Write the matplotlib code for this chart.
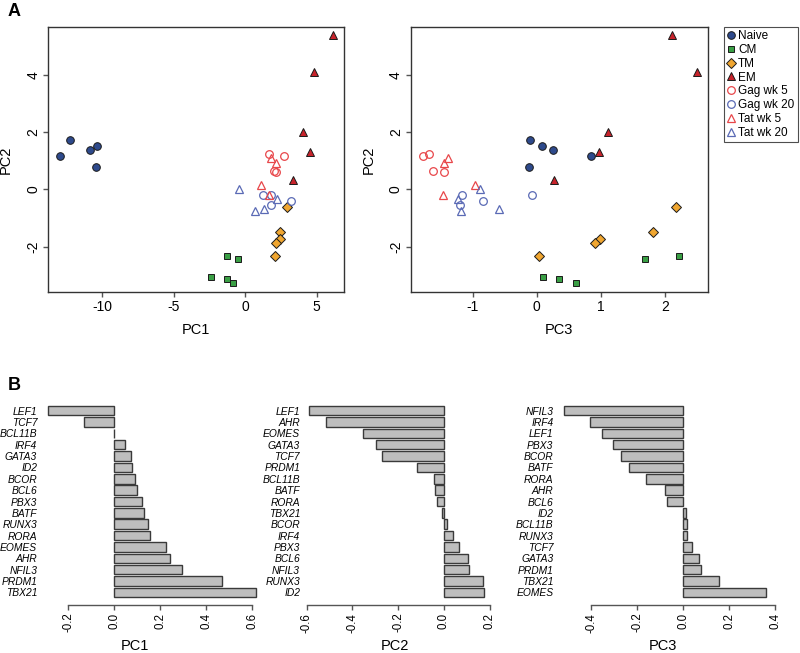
import matplotlib
matplotlib.use("Agg")
import matplotlib.pyplot as plt
from matplotlib.lines import Line2D

plt.rcParams['font.family'] = ['Liberation Sans', 'DejaVu Sans']
plt.rcParams['axes.unicode_minus'] = False

# ---- PCA scores per group (PC1, PC2, PC3) ----
groups = ["Naive", "CM", "TM", "EM", "Gag wk 5", "Gag wk 20", "Tat wk 5", "Tat wk 20"]

naive_pc1 = [-12.23, -10.37, -10.88, -10.42, -12.95]
naive_pc2 = [1.73, 1.53, 1.37, 0.77, 1.18]
naive_pc3 = [-0.11, 0.08, 0.25, -0.13, 0.84]

cm_pc1 = [-1.28, -0.51, -2.40, -1.26, -0.88]
cm_pc2 = [-2.34, -2.42, -3.06, -3.13, -3.26]
cm_pc3 = [2.22, 1.69, 0.10, 0.34, 0.61]

tm_pc1 = [2.93, 2.44, 2.44, 2.12, 2.07]
tm_pc2 = [-0.63, -1.50, -1.74, -1.88, -2.34]
tm_pc3 = [2.17, 1.81, 0.98, 0.90, 0.03]

em_pc1 = [6.16, 4.84, 4.07, 4.56, 3.33]
em_pc2 = [5.38, 4.09, 2.00, 1.31, 0.34]
em_pc3 = [2.11, 2.49, 1.10, 0.97, 0.26]

gag5_pc1 = [1.65, 2.70, 1.98, 2.12]
gag5_pc2 = [1.24, 1.18, 0.64, 0.62]
gag5_pc3 = [-1.68, -1.77, -1.61, -1.44]

gag20_pc1 = [1.21, 1.81, 1.81, 3.21]
gag20_pc2 = [-0.21, -0.19, -0.56, -0.42]
gag20_pc3 = [-0.07, -1.16, -1.19, -0.84]

tat5_pc1 = [1.77, 2.12, 1.09, 1.63]
tat5_pc2 = [1.10, 0.94, 0.14, -0.18]
tat5_pc3 = [-1.38, -1.44, -0.96, -1.46]

tat20_pc1 = [-0.42, 2.21, 0.67, 1.30]
tat20_pc2 = [0.02, -0.33, -0.75, -0.68]
tat20_pc3 = [-0.88, -1.23, -1.18, -0.59]

# ---- loadings (top to bottom as drawn) ----
pc1_genes = ["LEF1", "TCF7", "BCL11B", "IRF4", "GATA3", "ID2", "BCOR", "BCL6", "PBX3",
             "BATF", "RUNX3", "RORA", "EOMES", "AHR", "NFIL3", "PRDM1", "TBX21"]
pc1_load = [-0.29, -0.13, -0.003, 0.046, 0.074, 0.078, 0.088, 0.097, 0.119,
            0.128, 0.148, 0.157, 0.225, 0.242, 0.296, 0.467, 0.614]

pc2_genes = ["LEF1", "AHR", "EOMES", "GATA3", "TCF7", "PRDM1", "BCL11B", "BATF", "RORA",
             "TBX21", "BCOR", "IRF4", "PBX3", "BCL6", "NFIL3", "RUNX3", "ID2"]
pc2_load = [-0.588, -0.515, -0.352, -0.297, -0.272, -0.119, -0.045, -0.038, -0.029,
            -0.009, 0.015, 0.041, 0.067, 0.106, 0.109, 0.172, 0.175]

pc3_genes = ["NFIL3", "IRF4", "LEF1", "PBX3", "BCOR", "BATF", "RORA", "AHR", "BCL6",
             "ID2", "BCL11B", "RUNX3", "TCF7", "GATA3", "PRDM1", "TBX21", "EOMES"]
pc3_load = [-0.521, -0.408, -0.356, -0.308, -0.270, -0.236, -0.163, -0.081, -0.069,
            0.012, 0.014, 0.016, 0.036, 0.069, 0.075, 0.156, 0.362]

W, H = 800, 653
fig = plt.figure(figsize=(W / 100, H / 100), dpi=100)


def px_axes(x0, y0, x1, y1):
    # pixel box (top-left origin) -> figure axes
    return fig.add_axes([x0 / W, 1 - y1 / H, (x1 - x0) / W, (y1 - y0) / H])


styles = {
    "Naive": dict(marker="o", mfc="#2e4a8c", mec="#1a1a1a", ms=5.5, mew=0.7),
    "CM": dict(marker="s", mfc="#3a9f45", mec="#1a1a1a", ms=4.8, mew=0.7),
    "TM": dict(marker="D", mfc="#f0a630", mec="#1a1a1a", ms=4.6, mew=0.7),
    "EM": dict(marker="^", mfc="#c8232b", mec="#1a1a1a", ms=6.2, mew=0.7),
    "Gag wk 5": dict(marker="o", mfc="none", mec="#e8474a", ms=5.5, mew=0.9),
    "Gag wk 20": dict(marker="o", mfc="none", mec="#5a6ab5", ms=5.5, mew=0.9),
    "Tat wk 5": dict(marker="^", mfc="none", mec="#e8474a", ms=6.2, mew=0.9),
    "Tat wk 20": dict(marker="^", mfc="none", mec="#5a6ab5", ms=6.2, mew=0.9),
}

data = {
    "Naive": (naive_pc1, naive_pc2, naive_pc3),
    "CM": (cm_pc1, cm_pc2, cm_pc3),
    "TM": (tm_pc1, tm_pc2, tm_pc3),
    "EM": (em_pc1, em_pc2, em_pc3),
    "Gag wk 5": (gag5_pc1, gag5_pc2, gag5_pc3),
    "Gag wk 20": (gag20_pc1, gag20_pc2, gag20_pc3),
    "Tat wk 5": (tat5_pc1, tat5_pc2, tat5_pc3),
    "Tat wk 20": (tat20_pc1, tat20_pc2, tat20_pc3),
}


def style_box(ax):
    for s in ax.spines.values():
        s.set_color("#333333")
        s.set_linewidth(1.0)
    ax.tick_params(direction="out", length=3.8, width=1.0, color="#555555",
                   labelsize=10, pad=2)
    for lab in ax.get_yticklabels():
        lab.set_rotation(90)
        lab.set_va("center")


# ---- panel A ----
ax1 = px_axes(48.3, 26.7, 344.3, 292.3)
ax2 = px_axes(411, 26.7, 707.7, 292.3)

for g in groups:
    p1, p2, p3 = data[g]
    ax1.plot(p1, p2, ls="none", **styles[g])
    ax2.plot(p3, p2, ls="none", **styles[g])

ax1.set_xlim(-13.77, 6.93)
ax1.set_ylim(-3.59, 5.68)
ax1.set_xticks([-10, -5, 0, 5])
ax1.set_yticks([-2, 0, 2, 4])
ax2.set_xlim(-1.96, 2.66)
ax2.set_ylim(-3.59, 5.68)
ax2.set_xticks([-1, 0, 1, 2])
ax2.set_yticks([-2, 0, 2, 4])

for ax, xl in [(ax1, "PC1"), (ax2, "PC3")]:
    style_box(ax)
    ax.set_xlabel(xl, fontsize=10.5)
    ax.set_ylabel("PC2", fontsize=10.5)
    ax.xaxis.set_label_coords(0.5, -0.115)
    ax.yaxis.set_label_coords(-0.12, 0.5)

handles = [Line2D([], [], ls="none", **styles[g]) for g in groups]
leg = fig.legend(handles, groups, loc="upper left", bbox_to_anchor=(724.3 / W, 1 - 26.7 / H),
                 frameon=True, fancybox=False, edgecolor="#222222", fontsize=8.5,
                 handlelength=0.5, handletextpad=0.35, labelspacing=0.15, borderpad=0.3,
                 borderaxespad=0)
leg.get_frame().set_linewidth(0.8)

fig.text(8 / W, 1 - 12 / H, "A", fontsize=13, fontweight="bold", va="center", ha="left")
fig.text(8 / W, 1 - 386 / H, "B", fontsize=13, fontweight="bold", va="center", ha="left")

# ---- panel B ----
bar_specs = [
    (pc1_genes, pc1_load, "PC1", (-0.326, 0.65), 39.3, 224.5, [-0.2, 0.0, 0.2, 0.4, 0.6], 135),
    (pc2_genes, pc2_load, "PC2", (-0.619, 0.205), 302.2, 188.7, [-0.6, -0.4, -0.2, 0.0, 0.2], 395),
    (pc3_genes, pc3_load, "PC3", (-0.556, 0.397), 555.6, 219.6, [-0.4, -0.2, 0.0, 0.2, 0.4], 663),
]

for genes, vals, name, xlim, left, width, ticks, lab_x in bar_specs:
    ax = px_axes(left, 398, left + width, 605)
    ypos = list(range(len(genes)))
    ax.barh(ypos, vals, height=0.83, color="#bebebe", edgecolor="#3a3a3a", linewidth=1.0)
    ax.set_xlim(*xlim)
    ax.set_ylim(len(genes) - 1 + 1.12, -1.12)
    ax.set_yticks(ypos)
    ax.set_yticklabels(genes, fontstyle="italic", fontsize=7.4)
    ax.tick_params(axis="y", length=0, pad=1.5)
    for s in ["top", "right", "left"]:
        ax.spines[s].set_visible(False)
    ax.spines["bottom"].set_bounds(ticks[0], ticks[-1])
    ax.spines["bottom"].set_color("#555555")
    ax.spines["bottom"].set_linewidth(1.0)
    ax.set_xticks(ticks)
    ax.set_xticklabels([f"{t:.1f}" for t in ticks], rotation=90, fontsize=8.3)
    ax.tick_params(axis="x", direction="out", length=3.5, width=1.0, color="#555555", pad=2)
    fig.text(lab_x / W, 1 - 646 / H, name, fontsize=10.5, ha="center", va="center")

fig.savefig("out.png", dpi=100)
